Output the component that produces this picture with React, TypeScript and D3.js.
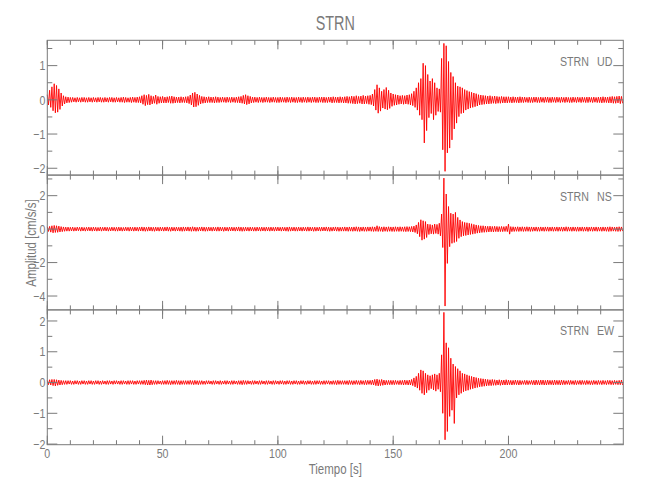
import React from "react";
import * as d3 from "d3";

// ---------- data (envelope peaks per second) ----------
const TITLE = "STRN";
const STATION = "STRN";
const COMPONENTS = ["UD", "NS", "EW"];
const X_LABEL = "Tiempo [s]";
const Y_LABEL = "Amplitud [cm/s/s]";
const T_END = 249.8;
const X_MAJOR = [0, 50, 100, 150, 200];
const X_MINOR_STEP = 10;

const UD_DOMAIN = [-2.2, 1.74];
const NS_DOMAIN = [-4.83, 3.23];
const EW_DOMAIN = [-2.02, 2.36];
const UD_TICKS = [-2, -1, 0, 1];
const NS_TICKS = [-4, -2, 0, 2];
const EW_TICKS = [-2, -1, 0, 1, 2];
const UD_MINOR = 0.5;
const NS_MINOR = 1;
const EW_MINOR = 0.5;

const UD_UP = [
  0.15,0.28,0.38,0.47,0.42,0.32,0.2,0.12,0.09,0.08,
  0.07,0.07,0.06,0.07,0.06,0.07,0.07,0.06,0.07,0.06,
  0.07,0.06,0.07,0.07,0.06,0.07,0.06,0.07,0.07,0.06,
  0.07,0.06,0.07,0.08,0.07,0.06,0.07,0.08,0.07,0.08,
  0.09,0.12,0.15,0.13,0.16,0.12,0.1,0.14,0.1,0.09,
  0.1,0.08,0.09,0.1,0.11,0.09,0.08,0.08,0.09,0.08,
  0.09,0.1,0.14,0.2,0.22,0.17,0.13,0.1,0.09,0.08,
  0.09,0.08,0.08,0.09,0.08,0.07,0.08,0.07,0.08,0.07,
  0.08,0.07,0.08,0.09,0.1,0.13,0.15,0.12,0.1,0.08,
  0.08,0.07,0.08,0.07,0.07,0.08,0.07,0.07,0.08,0.07,
  0.07,0.08,0.07,0.07,0.08,0.07,0.08,0.07,0.07,0.08,
  0.07,0.08,0.07,0.08,0.07,0.08,0.08,0.07,0.08,0.08,
  0.08,0.07,0.08,0.08,0.09,0.08,0.08,0.09,0.08,0.09,
  0.1,0.09,0.11,0.1,0.12,0.1,0.11,0.13,0.11,0.12,
  0.13,0.17,0.3,0.44,0.35,0.25,0.3,0.36,0.28,0.2,
  0.17,0.15,0.14,0.12,0.13,0.12,0.14,0.15,0.18,0.25,
  0.35,0.5,0.62,1.07,1.0,0.74,0.55,0.62,0.5,0.35,
  0.32,1.21,1.65,1.58,1.12,0.8,0.68,0.5,0.4,0.38,
  0.35,0.3,0.27,0.24,0.22,0.2,0.18,0.15,0.14,0.13,
  0.12,0.11,0.12,0.1,0.11,0.1,0.09,0.1,0.09,0.09,
  0.09,0.08,0.09,0.08,0.08,0.09,0.08,0.08,0.07,0.08,
  0.07,0.08,0.08,0.07,0.08,0.07,0.08,0.08,0.07,0.08,
  0.07,0.08,0.07,0.08,0.07,0.08,0.07,0.07,0.08,0.07,
  0.08,0.07,0.08,0.07,0.08,0.08,0.07,0.08,0.07,0.08,
  0.08,0.09,0.08,0.08,0.09,0.1,0.09,0.1,0.11,0.1,
];
const UD_LO = [
  -0.15,-0.22,-0.32,-0.38,-0.36,-0.28,-0.18,-0.12,-0.09,-0.08,
  -0.07,-0.06,-0.07,-0.06,-0.07,-0.06,-0.07,-0.07,-0.06,-0.07,
  -0.06,-0.07,-0.06,-0.07,-0.07,-0.06,-0.07,-0.06,-0.07,-0.07,
  -0.06,-0.07,-0.07,-0.08,-0.07,-0.07,-0.08,-0.07,-0.08,-0.08,
  -0.09,-0.13,-0.17,-0.14,-0.15,-0.12,-0.1,-0.13,-0.1,-0.09,
  -0.09,-0.09,-0.08,-0.1,-0.1,-0.09,-0.08,-0.09,-0.08,-0.08,
  -0.09,-0.11,-0.15,-0.21,-0.2,-0.16,-0.12,-0.1,-0.09,-0.08,
  -0.08,-0.08,-0.09,-0.08,-0.08,-0.07,-0.07,-0.08,-0.07,-0.08,
  -0.07,-0.08,-0.08,-0.09,-0.1,-0.12,-0.14,-0.12,-0.09,-0.08,
  -0.07,-0.08,-0.07,-0.08,-0.07,-0.07,-0.08,-0.07,-0.07,-0.08,
  -0.08,-0.07,-0.07,-0.08,-0.07,-0.08,-0.07,-0.08,-0.08,-0.07,
  -0.08,-0.07,-0.08,-0.07,-0.08,-0.07,-0.08,-0.08,-0.07,-0.08,
  -0.08,-0.08,-0.07,-0.09,-0.08,-0.08,-0.09,-0.08,-0.09,-0.09,
  -0.1,-0.1,-0.11,-0.12,-0.11,-0.1,-0.12,-0.12,-0.11,-0.13,
  -0.14,-0.18,-0.3,-0.39,-0.33,-0.24,-0.27,-0.29,-0.25,-0.19,
  -0.16,-0.15,-0.13,-0.12,-0.13,-0.12,-0.13,-0.15,-0.17,-0.22,
  -0.3,-0.45,-0.58,-1.26,-0.9,-0.52,-0.4,-0.58,-0.45,-0.34,
  -0.36,-1.46,-2.09,-1.55,-1.41,-1.17,-0.85,-0.68,-0.49,-0.4,
  -0.38,-0.3,-0.27,-0.24,-0.22,-0.2,-0.18,-0.15,-0.14,-0.13,
  -0.12,-0.12,-0.11,-0.1,-0.11,-0.1,-0.1,-0.09,-0.09,-0.09,
  -0.08,-0.09,-0.08,-0.08,-0.09,-0.08,-0.08,-0.07,-0.08,-0.08,
  -0.08,-0.07,-0.08,-0.08,-0.07,-0.08,-0.07,-0.08,-0.08,-0.07,
  -0.08,-0.07,-0.08,-0.07,-0.08,-0.07,-0.08,-0.08,-0.07,-0.08,
  -0.07,-0.08,-0.07,-0.08,-0.08,-0.07,-0.08,-0.07,-0.08,-0.08,
  -0.09,-0.08,-0.08,-0.09,-0.09,-0.1,-0.1,-0.09,-0.11,-0.1,
];

const NS_UP = [
  0.14,0.16,0.2,0.22,0.2,0.18,0.15,0.13,0.12,0.12,
  0.11,0.12,0.1,0.12,0.11,0.12,0.1,0.11,0.12,0.11,
  0.12,0.11,0.1,0.12,0.11,0.12,0.11,0.1,0.12,0.11,
  0.11,0.12,0.11,0.1,0.12,0.11,0.12,0.11,0.12,0.11,
  0.12,0.13,0.12,0.11,0.13,0.12,0.11,0.12,0.11,0.12,
  0.11,0.12,0.13,0.11,0.12,0.11,0.12,0.11,0.12,0.13,
  0.12,0.13,0.12,0.14,0.12,0.11,0.12,0.13,0.12,0.11,
  0.12,0.11,0.12,0.11,0.13,0.12,0.11,0.12,0.11,0.12,
  0.12,0.11,0.12,0.13,0.12,0.11,0.12,0.11,0.12,0.11,
  0.11,0.12,0.11,0.12,0.11,0.12,0.11,0.12,0.11,0.12,
  0.12,0.11,0.12,0.11,0.12,0.13,0.11,0.12,0.11,0.12,
  0.11,0.12,0.11,0.13,0.12,0.11,0.12,0.11,0.12,0.12,
  0.12,0.13,0.12,0.11,0.12,0.13,0.12,0.11,0.12,0.13,
  0.12,0.13,0.12,0.13,0.14,0.13,0.12,0.13,0.12,0.13,
  0.13,0.14,0.13,0.2,0.15,0.13,0.14,0.13,0.14,0.13,
  0.13,0.14,0.13,0.14,0.13,0.14,0.15,0.14,0.16,0.18,
  0.25,0.4,0.56,0.5,0.45,0.3,0.28,0.25,0.3,0.28,
  0.35,0.9,3.05,2.1,1.35,0.95,0.9,1.0,0.7,0.55,
  0.45,0.4,0.38,0.35,0.32,0.28,0.25,0.22,0.2,0.2,
  0.18,0.17,0.18,0.16,0.17,0.16,0.15,0.16,0.15,0.17,
  0.3,0.15,0.14,0.13,0.14,0.13,0.14,0.13,0.14,0.13,
  0.13,0.12,0.13,0.12,0.13,0.12,0.13,0.13,0.12,0.13,
  0.12,0.13,0.12,0.13,0.12,0.14,0.13,0.12,0.13,0.12,
  0.13,0.12,0.13,0.12,0.13,0.12,0.13,0.12,0.13,0.12,
  0.12,0.13,0.12,0.13,0.14,0.13,0.12,0.13,0.14,0.13,
];
const NS_LO = [
  -0.14,-0.18,-0.22,-0.2,-0.19,-0.17,-0.15,-0.13,-0.12,-0.12,
  -0.11,-0.12,-0.11,-0.1,-0.12,-0.11,-0.12,-0.1,-0.11,-0.12,
  -0.11,-0.12,-0.11,-0.12,-0.1,-0.11,-0.12,-0.11,-0.1,-0.12,
  -0.12,-0.11,-0.12,-0.11,-0.1,-0.12,-0.11,-0.12,-0.11,-0.12,
  -0.11,-0.12,-0.13,-0.12,-0.11,-0.12,-0.13,-0.11,-0.12,-0.11,
  -0.12,-0.11,-0.12,-0.13,-0.11,-0.12,-0.11,-0.12,-0.13,-0.12,
  -0.11,-0.12,-0.13,-0.12,-0.13,-0.12,-0.11,-0.12,-0.13,-0.12,
  -0.11,-0.12,-0.11,-0.12,-0.12,-0.11,-0.13,-0.11,-0.12,-0.11,
  -0.11,-0.12,-0.11,-0.12,-0.13,-0.12,-0.11,-0.12,-0.11,-0.12,
  -0.12,-0.11,-0.12,-0.11,-0.12,-0.11,-0.12,-0.11,-0.12,-0.11,
  -0.11,-0.12,-0.11,-0.12,-0.13,-0.12,-0.11,-0.12,-0.12,-0.11,
  -0.12,-0.11,-0.12,-0.12,-0.11,-0.13,-0.12,-0.11,-0.12,-0.11,
  -0.11,-0.12,-0.13,-0.12,-0.11,-0.12,-0.13,-0.12,-0.12,-0.12,
  -0.13,-0.12,-0.13,-0.12,-0.13,-0.14,-0.12,-0.13,-0.13,-0.12,
  -0.13,-0.14,-0.13,-0.14,-0.13,-0.15,-0.13,-0.14,-0.13,-0.14,
  -0.14,-0.13,-0.14,-0.13,-0.14,-0.15,-0.14,-0.15,-0.17,-0.2,
  -0.28,-0.45,-0.66,-0.6,-0.5,-0.32,-0.28,-0.3,-0.26,-0.3,
  -0.4,-1.1,-4.6,-2.05,-1.05,-0.85,-0.8,-0.74,-0.55,-0.45,
  -0.4,-0.38,-0.35,-0.32,-0.3,-0.27,-0.24,-0.22,-0.2,-0.19,
  -0.18,-0.17,-0.16,-0.17,-0.15,-0.16,-0.15,-0.15,-0.14,-0.15,
  -0.3,-0.15,-0.14,-0.13,-0.14,-0.13,-0.14,-0.13,-0.13,-0.14,
  -0.13,-0.12,-0.13,-0.13,-0.12,-0.13,-0.12,-0.13,-0.12,-0.13,
  -0.12,-0.13,-0.12,-0.13,-0.12,-0.13,-0.12,-0.13,-0.12,-0.13,
  -0.13,-0.12,-0.13,-0.12,-0.14,-0.12,-0.13,-0.12,-0.13,-0.12,
  -0.13,-0.12,-0.13,-0.14,-0.13,-0.12,-0.13,-0.14,-0.13,-0.12,
];

const EW_UP = [
  0.07,0.09,0.1,0.1,0.09,0.08,0.07,0.06,0.06,0.06,
  0.06,0.05,0.06,0.06,0.05,0.06,0.06,0.05,0.06,0.06,
  0.05,0.06,0.06,0.05,0.06,0.05,0.06,0.06,0.05,0.06,
  0.06,0.05,0.06,0.06,0.05,0.06,0.06,0.06,0.05,0.06,
  0.06,0.06,0.07,0.08,0.07,0.08,0.06,0.06,0.06,0.05,
  0.06,0.06,0.07,0.06,0.06,0.06,0.07,0.06,0.06,0.06,
  0.06,0.06,0.07,0.06,0.07,0.06,0.06,0.06,0.05,0.06,
  0.06,0.05,0.06,0.06,0.05,0.06,0.05,0.06,0.06,0.05,
  0.06,0.06,0.05,0.06,0.06,0.07,0.06,0.06,0.05,0.06,
  0.06,0.05,0.06,0.06,0.05,0.06,0.06,0.05,0.06,0.06,
  0.05,0.06,0.06,0.05,0.06,0.06,0.05,0.06,0.06,0.05,
  0.06,0.06,0.05,0.06,0.06,0.05,0.06,0.06,0.06,0.05,
  0.06,0.06,0.06,0.05,0.06,0.06,0.07,0.06,0.06,0.06,
  0.06,0.07,0.06,0.06,0.07,0.06,0.07,0.06,0.07,0.07,
  0.07,0.08,0.1,0.11,0.09,0.1,0.08,0.07,0.07,0.07,
  0.07,0.07,0.06,0.07,0.07,0.08,0.07,0.08,0.1,0.15,
  0.2,0.3,0.41,0.38,0.3,0.25,0.22,0.25,0.28,0.25,
  0.3,0.9,2.28,1.29,1.13,0.79,0.6,0.52,0.45,0.38,
  0.3,0.28,0.25,0.22,0.2,0.18,0.16,0.14,0.13,0.12,
  0.11,0.1,0.09,0.1,0.09,0.08,0.09,0.08,0.08,0.09,
  0.08,0.07,0.07,0.08,0.07,0.07,0.06,0.07,0.07,0.06,
  0.07,0.07,0.08,0.07,0.08,0.08,0.07,0.08,0.07,0.07,
  0.08,0.07,0.07,0.08,0.07,0.06,0.07,0.07,0.06,0.07,
  0.06,0.07,0.07,0.06,0.07,0.06,0.06,0.07,0.06,0.07,
  0.06,0.07,0.06,0.07,0.07,0.06,0.07,0.06,0.07,0.08,
];
const EW_LO = [
  -0.07,-0.08,-0.1,-0.11,-0.09,-0.08,-0.07,-0.06,-0.06,-0.05,
  -0.06,-0.06,-0.05,-0.06,-0.06,-0.05,-0.06,-0.06,-0.05,-0.06,
  -0.06,-0.05,-0.06,-0.06,-0.05,-0.06,-0.06,-0.05,-0.06,-0.05,
  -0.05,-0.06,-0.06,-0.05,-0.06,-0.06,-0.05,-0.06,-0.06,-0.05,
  -0.06,-0.06,-0.07,-0.08,-0.08,-0.07,-0.06,-0.06,-0.05,-0.06,
  -0.06,-0.06,-0.06,-0.07,-0.06,-0.06,-0.06,-0.07,-0.06,-0.06,
  -0.06,-0.06,-0.06,-0.07,-0.06,-0.07,-0.06,-0.06,-0.06,-0.05,
  -0.05,-0.06,-0.06,-0.05,-0.06,-0.06,-0.05,-0.06,-0.05,-0.06,
  -0.06,-0.05,-0.06,-0.06,-0.07,-0.06,-0.06,-0.05,-0.06,-0.06,
  -0.05,-0.06,-0.06,-0.05,-0.06,-0.06,-0.05,-0.06,-0.06,-0.05,
  -0.06,-0.05,-0.06,-0.06,-0.05,-0.06,-0.06,-0.05,-0.06,-0.06,
  -0.05,-0.06,-0.06,-0.05,-0.06,-0.06,-0.06,-0.05,-0.06,-0.06,
  -0.06,-0.05,-0.06,-0.06,-0.06,-0.07,-0.06,-0.06,-0.06,-0.06,
  -0.07,-0.06,-0.07,-0.06,-0.06,-0.07,-0.06,-0.07,-0.07,-0.06,
  -0.07,-0.08,-0.1,-0.11,-0.1,-0.09,-0.08,-0.07,-0.07,-0.07,
  -0.07,-0.06,-0.07,-0.07,-0.08,-0.07,-0.08,-0.08,-0.1,-0.14,
  -0.18,-0.25,-0.35,-0.4,-0.33,-0.25,-0.2,-0.24,-0.28,-0.22,
  -0.3,-1.0,-1.86,-1.59,-1.1,-0.9,-1.33,-0.5,-0.4,-0.35,
  -0.3,-0.27,-0.25,-0.22,-0.2,-0.18,-0.16,-0.14,-0.13,-0.12,
  -0.11,-0.1,-0.1,-0.09,-0.09,-0.08,-0.09,-0.08,-0.08,-0.08,
  -0.07,-0.08,-0.07,-0.07,-0.08,-0.07,-0.06,-0.07,-0.07,-0.06,
  -0.07,-0.08,-0.07,-0.08,-0.07,-0.08,-0.08,-0.07,-0.07,-0.08,
  -0.07,-0.07,-0.08,-0.07,-0.07,-0.06,-0.07,-0.06,-0.07,-0.07,
  -0.06,-0.07,-0.06,-0.07,-0.06,-0.07,-0.07,-0.06,-0.07,-0.06,
  -0.07,-0.06,-0.07,-0.06,-0.07,-0.07,-0.06,-0.07,-0.07,-0.08,
];

// ---------- layout ----------
const W = 650;
const H = 500;
const LEFT = 47.3;
const RIGHT = 623.3;
const TOP = 40.3;
const PANEL_H = 134.8;
const GRAY = "#7a7a7a";
const FONT = "'Liberation Sans Narrow','Liberation Sans',sans-serif";

const panels = [
  { comp: COMPONENTS[0], domain: UD_DOMAIN, ticks: UD_TICKS, minor: UD_MINOR, up: UD_UP, lo: UD_LO },
  { comp: COMPONENTS[1], domain: NS_DOMAIN, ticks: NS_TICKS, minor: NS_MINOR, up: NS_UP, lo: NS_LO },
  { comp: COMPONENTS[2], domain: EW_DOMAIN, ticks: EW_TICKS, minor: EW_MINOR, up: EW_UP, lo: EW_LO },
];

function Txt({ x, y, children, size = 13, anchor = "start", sx = 0.82, rotate = 0 }: any) {
  return (
    <text
      transform={`translate(${x},${y})${rotate ? ` rotate(${rotate})` : ""} scale(${sx},1)`}
      fontSize={size}
      fontFamily={FONT}
      textAnchor={anchor}
      fill={GRAY}
    >
      {children}
    </text>
  );
}

const fmt = (v: number) => (v < 0 ? "\u2212" + Math.abs(v) : String(v));

export default function App() {
  const x = d3.scaleLinear().domain([0, T_END]).range([LEFT, RIGHT]);
  const xMinor = d3.range(0, T_END, X_MINOR_STEP);

  return (
    <svg width={W} height={H} style={{ position: "absolute", left: 0, top: 0, background: "#fff" }}>
      <Txt x={(LEFT + RIGHT) / 2} y={30} size={20} anchor="middle" sx={0.72}>{TITLE}</Txt>
      {panels.map((p, pi) => {
        const y0 = TOP + pi * PANEL_H;
        const y1 = y0 + PANEL_H;
        const y = d3.scaleLinear().domain(p.domain).range([y1, y0]);
        const pts: [number, number][] = [];
        p.up.forEach((u: number, i: number) => {
          pts.push([i, u]);
          pts.push([i + 0.5, p.lo[i]]);
        });
        const line = d3
          .line<[number, number]>()
          .x((d) => x(d[0]))
          .y((d) => y(d[1]));
        const yMinor = d3
          .range(Math.ceil(p.domain[0] / p.minor) * p.minor, p.domain[1], p.minor)
          .filter((v) => !p.ticks.some((t) => Math.abs(t - v) < 1e-9));
        return (
          <g key={p.comp}>
            <path d={line(pts) || ""} fill="none" stroke="#ff0000" strokeWidth={0.9} strokeLinejoin="round" />
            <rect x={LEFT} y={y0} width={RIGHT - LEFT} height={PANEL_H} fill="none" stroke={GRAY} strokeWidth={1} />
            {X_MAJOR.map((t) => (
              <g key={"xm" + t}>
                <line x1={x(t)} x2={x(t)} y1={y0} y2={y0 + 9} stroke={GRAY} />
                <line x1={x(t)} x2={x(t)} y1={y1} y2={y1 - 9} stroke={GRAY} />
              </g>
            ))}
            {xMinor.map((t) => (
              <g key={"xn" + t}>
                <line x1={x(t)} x2={x(t)} y1={y0} y2={y0 + 4.5} stroke={GRAY} />
                <line x1={x(t)} x2={x(t)} y1={y1} y2={y1 - 4.5} stroke={GRAY} />
              </g>
            ))}
            {p.ticks.map((v: number) => (
              <g key={"ym" + v}>
                <line x1={LEFT} x2={LEFT + 10} y1={y(v)} y2={y(v)} stroke={GRAY} />
                <line x1={RIGHT} x2={RIGHT - 10} y1={y(v)} y2={y(v)} stroke={GRAY} />
                <Txt x={45.5} y={y(v) + 4.7} anchor="end">{fmt(v)}</Txt>
              </g>
            ))}
            {yMinor.map((v) => (
              <g key={"yn" + v}>
                <line x1={LEFT} x2={LEFT + 5} y1={y(v)} y2={y(v)} stroke={GRAY} />
                <line x1={RIGHT} x2={RIGHT - 5} y1={y(v)} y2={y(v)} stroke={GRAY} />
              </g>
            ))}
            <Txt x={560} y={y0 + 25.5}>{STATION}</Txt>
            <Txt x={597} y={y0 + 25.5}>{p.comp}</Txt>
          </g>
        );
      })}
      {X_MAJOR.map((t) => (
        <Txt key={"xl" + t} x={x(t)} y={458} anchor="middle">{String(t)}</Txt>
      ))}
      <Txt x={(LEFT + RIGHT) / 2} y={474} size={14} anchor="middle">{X_LABEL}</Txt>
      <Txt x={36} y={243} size={14} anchor="middle" rotate={-90}>{Y_LABEL}</Txt>
    </svg>
  );
}
